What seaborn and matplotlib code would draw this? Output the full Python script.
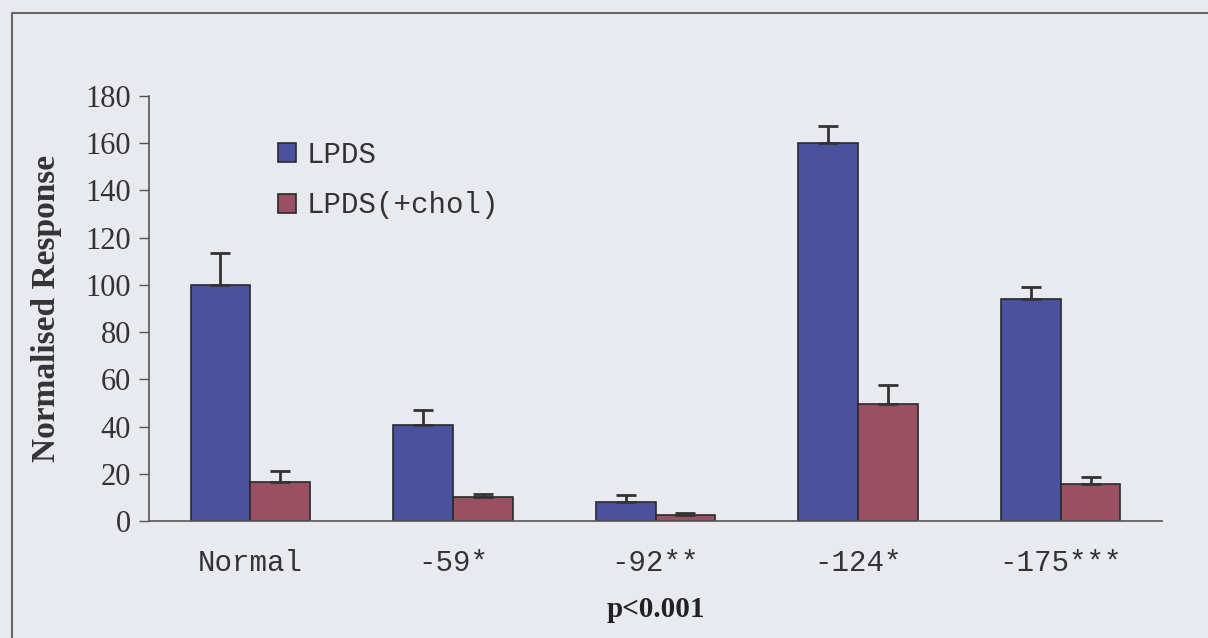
import numpy as np
import pandas as pd
import matplotlib
matplotlib.use("Agg")
import matplotlib.pyplot as plt
from matplotlib.lines import Line2D
from matplotlib.patches import Patch
import seaborn as sns

categories = ["Normal", "-59*", "-92**", "-124*", "-175***"]
series_names = ["LPDS", "LPDS(+chol)"]
lpds = [100, 40.7, 8.0, 160.0, 94.0]
lpds_err = [13.5, 6.5, 3.0, 7.5, 5.0]
chol = [16.5, 10.2, 2.5, 49.5, 15.7]
chol_err = [4.5, 1.2, 1.0, 8.0, 3.0]
y_ticks = [0, 20, 40, 60, 80, 100, 120, 140, 160, 180]

bg = "#e8eaf0"
colors = ["#4a52a0", "#985062"]

df = pd.DataFrame({
    "category": categories * 2,
    "series": [series_names[0]] * len(categories) + [series_names[1]] * len(categories),
    "value": lpds + chol,
})

sns.set_style("white")
fig = plt.figure(figsize=(12.08, 6.38), dpi=100, facecolor=bg)
ax = fig.add_axes([149 / 1208, 1 - 521 / 638, (1162 - 149) / 1208, (521 - 96) / 638])
ax.set_facecolor(bg)

sns.barplot(data=df, x="category", y="value", hue="series", order=categories,
            hue_order=series_names, palette=colors, width=0.59, ax=ax,
            edgecolor="#2a2a2a", linewidth=1.2, legend=False, saturation=1)

errs = [lpds_err, chol_err]
for cont, err in zip(ax.containers, errs):
    xs = [b.get_x() + b.get_width() / 2 for b in cont]
    hs = [b.get_height() for b in cont]
    ax.errorbar(xs, hs, yerr=[np.zeros(len(err)), err], fmt="none",
                ecolor="#333333", elinewidth=2.0, capsize=7.5, capthick=2.0, zorder=1)

ax.set_xlim(-0.5, 4.5)
ax.set_ylim(0, 180)
ax.set_yticks(y_ticks)
ax.set_yticklabels([str(t) for t in y_ticks], family="Liberation Serif", fontsize=22, color="#333333")
ax.set_xticks(range(len(categories)))
ax.set_xticklabels(categories, family="Liberation Mono", fontsize=21, color="#333333")
ax.tick_params(axis="y", direction="out", length=7, width=1, color="#555555", pad=6, left=True)
ax.tick_params(axis="x", length=0, pad=20)
for s in ["top", "right"]:
    ax.spines[s].set_visible(False)
for s in ["left", "bottom"]:
    ax.spines[s].set_color("#555555")
    ax.spines[s].set_linewidth(1.2)

ax.set_ylabel("Normalised Response", family="Liberation Serif", fontsize=24,
              fontweight="bold", color="#333333", labelpad=17)
ax.set_xlabel("p<0.001", family="Liberation Serif", fontsize=21,
              fontweight="bold", color="#222222", labelpad=14)

handles = [Patch(facecolor=c, edgecolor="#2a2a2a", linewidth=1.2) for c in colors]
leg = ax.legend(handles, series_names, loc="upper left", bbox_to_anchor=(0.127, 0.895),
                frameon=False, prop={"family": "Liberation Mono", "size": 21},
                handlelength=0.62, handleheight=0.62, handletextpad=0.38,
                labelspacing=0.78, borderpad=0, borderaxespad=0)
for t in leg.get_texts():
    t.set_color("#333333")

fig.add_artist(Line2D([12 / 1208, 1], [1 - 13 / 638, 1 - 13 / 638],
                      transform=fig.transFigure, color="#666666", lw=1.5))
fig.add_artist(Line2D([12 / 1208, 12 / 1208], [0, 1 - 13 / 638],
                      transform=fig.transFigure, color="#666666", lw=1.5))

fig.savefig("out.png", dpi=100, facecolor=bg)
